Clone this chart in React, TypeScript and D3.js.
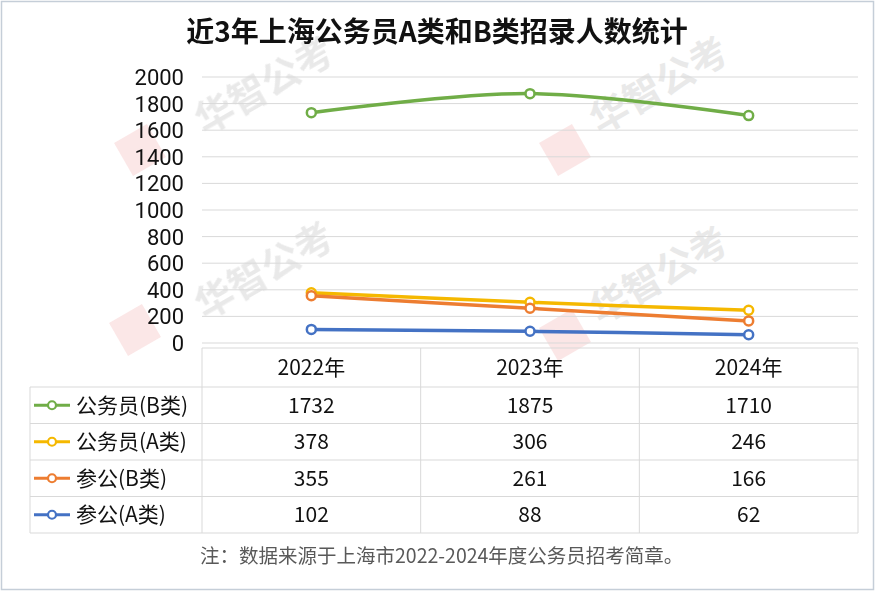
import React from "react";
import * as d3 from "d3";

const years = ["2022年", "2023年", "2024年"];
const seriesNames = ["公务员(B类)", "公务员(A类)", "参公(B类)", "参公(A类)"];
const seriesColors = ["#70ad47", "#f5b800", "#ed7d31", "#4472c4"];
const civilB = [1732, 1875, 1710];
const civilA = [378, 306, 246];
const canB = [355, 261, 166];
const canA = [102, 88, 62];
const seriesValues = [civilB, civilA, canB, canA];
const yTicks = [0, 200, 400, 600, 800, 1000, 1200, 1400, 1600, 1800, 2000];
const title = "近3年上海公务员A类和B类招录人数统计";
const note = "注：数据来源于上海市2022-2024年度公务员招考简章。";
const watermarkText = "华智公考";
// [logoX, logoY, textX, textY]
const watermarks = [
  [140, 150, 205, 135],
  [135, 330, 205, 320],
  [565, 150, 600, 135],
  [565, 335, 600, 325],
];

const W = 877;
const H = 592;
const FONT = "'Noto Sans CJK SC', 'Noto Sans', sans-serif";

export default function App() {
  const x = d3.scaleBand<string>().domain(years).range([202, 858]).padding(0);
  const y = d3.scaleLinear().domain([0, 2000]).range([343, 77]);
  const cx = (yr: string) => (x(yr) as number) + x.bandwidth() / 2;
  const line = d3
    .line<number>()
    .x((_, i) => cx(years[i]))
    .y((v) => y(v))
    .curve(d3.curveCatmullRom.alpha(0.5));

  const headerTop = 348;
  const headerBottom = 387;
  const rowH = 36.5;
  const legendLeft = 30;
  const tableRight = 858;
  const rowYs = seriesNames.map((_, i) => headerBottom + i * rowH);
  const tableBottom = headerBottom + seriesNames.length * rowH;
  const gridColor = "#d9d9d9";

  return (
    <svg
      width={W}
      height={H}
      style={{ position: "absolute", left: 0, top: 0, background: "#fff" }}
      fontFamily={FONT}
    >
      <rect x={0} y={0} width={W} height={H} fill="#fff" />
      <rect x={1.5} y={1.5} width={872} height={588} fill="none" stroke="#c5ced8" strokeWidth={1.5} />

      {/* watermarks */}
      {watermarks.map(([lx, ly, tx, ty], i) => (
        <g key={i} opacity={0.55}>
          <rect
            x={-19}
            y={-19}
            width={38}
            height={38}
            fill="#f4b6b6"
            opacity={0.6}
            transform={`translate(${lx},${ly}) rotate(-30)`}
          />
          <text
            transform={`translate(${tx},${ty}) rotate(-30)`}
            fontSize={38}
            fontWeight="bold"
            fill="#d8d8d8"
          >
            {watermarkText}
          </text>
        </g>
      ))}

      {/* title */}
      <text x={437} y={42} textAnchor="middle" fontSize={28} fontWeight="bold" fill="#111">
        {title}
      </text>

      {/* gridlines */}
      {yTicks.map((t) => (
        <line key={t} x1={202} x2={858} y1={y(t)} y2={y(t)} stroke={gridColor} strokeWidth={1} />
      ))}
      {yTicks.map((t) => (
        <text
          key={"l" + t}
          x={184}
          y={y(t)}
          dy="0.36em"
          textAnchor="end"
          fontSize={22}
          fontFamily="Roboto, 'Liberation Sans', sans-serif"
          fill="#111"
        >
          {t}
        </text>
      ))}

      {/* lines */}
      {seriesValues.map((vals, si) => (
        <g key={si}>
          <path d={line(vals) || ""} fill="none" stroke={seriesColors[si]} strokeWidth={3.5} />
          {vals.map((v, i) => (
            <circle
              key={i}
              cx={cx(years[i])}
              cy={y(v)}
              r={4.5}
              fill="#fff"
              stroke={seriesColors[si]}
              strokeWidth={2.5}
            />
          ))}
        </g>
      ))}

      {/* table */}
      <g stroke={gridColor} strokeWidth={1} fill="none">
        <line x1={202} x2={tableRight} y1={headerTop} y2={headerTop} />
        {rowYs.map((ry, i) => (
          <line key={i} x1={legendLeft} x2={tableRight} y1={ry} y2={ry} />
        ))}
        <line x1={legendLeft} x2={tableRight} y1={tableBottom} y2={tableBottom} />
        <line x1={legendLeft} x2={legendLeft} y1={headerBottom} y2={tableBottom} />
        {years.map((yr) => (
          <line key={yr} x1={x(yr) as number} x2={x(yr) as number} y1={headerTop} y2={tableBottom} />
        ))}
        <line x1={tableRight} x2={tableRight} y1={headerTop} y2={tableBottom} />
      </g>
      {years.map((yr) => (
        <text
          key={yr}
          x={cx(yr)}
          y={(headerTop + headerBottom) / 2}
          dy="0.36em"
          textAnchor="middle"
          fontSize={21}
          fill="#111"
        >
          {yr}
        </text>
      ))}
      {seriesNames.map((name, si) => {
        const my = rowYs[si] + rowH / 2;
        return (
          <g key={name}>
            <line x1={34} x2={70} y1={my} y2={my} stroke={seriesColors[si]} strokeWidth={3} />
            <circle cx={52} cy={my} r={4} fill="#fff" stroke={seriesColors[si]} strokeWidth={2.2} />
            <text x={76} y={my} dy="0.36em" fontSize={21} fill="#111">
              {name}
            </text>
            {seriesValues[si].map((v, i) => (
              <text
                key={i}
                x={cx(years[i])}
                y={my}
                dy="0.36em"
                textAnchor="middle"
                fontSize={21}
                fill="#111"
              >
                {v}
              </text>
            ))}
          </g>
        );
      })}

      {/* note */}
      <text x={200} y={556} dy="0.36em" fontSize={19.5} fill="#595959">
        {note}
      </text>
    </svg>
  );
}
